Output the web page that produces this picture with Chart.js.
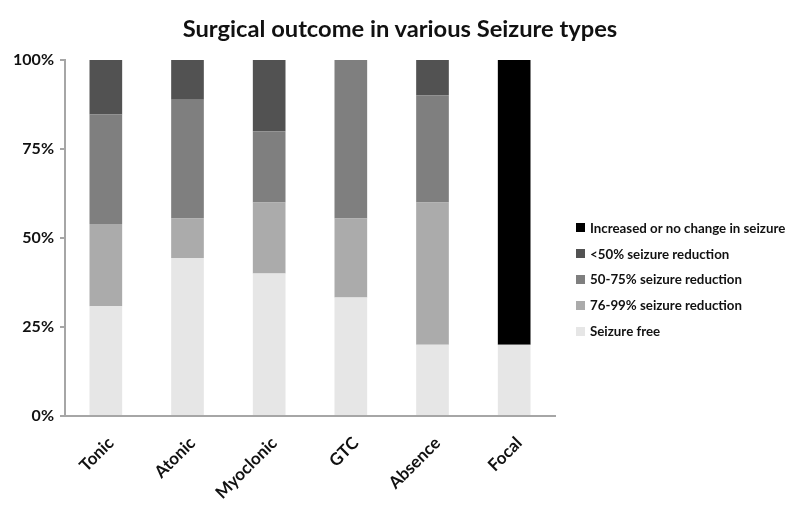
<!DOCTYPE html>
<html>
<head>
<meta charset="utf-8">
<script src="https://cdn.jsdelivr.net/npm/chart.js@4"></script>
<style>
    html, body { margin: 0; padding: 0; background: #fff; }
    #wrap { position: relative; width: 800px; height: 516px; }
    #title { position: absolute; left: 0; top: 15px; width: 800px; text-align: center; font: bold 23.7px/26px Lato, sans-serif; color: #111; }
    #legend { position: absolute; left: 576px; top: 215px; font: bold 13.3px Lato, sans-serif; color: #111; }
    #legend div { height: 25.8px; display: flex; align-items: center; }
    #legend span.box { display: inline-block; width: 9px; height: 9px; margin-right: 5px; }
</style>
</head>
<body>
<div id="wrap">
    <canvas id="chart" width="800" height="516"></canvas>
    <div id="title">Surgical outcome in various Seizure types</div>
    <div id="legend"></div>
</div>
<script>
    const categories = ['Tonic', 'Atonic', 'Myoclonic', 'GTC', 'Absence', 'Focal'];
    const seizureFree = [30.8, 44.4, 40, 33.3, 20, 20];
    const reduction76to99 = [23.1, 11.1, 20, 22.2, 40, 0];
    const reduction50to75 = [30.8, 33.3, 20, 44.5, 30, 0];
    const reductionUnder50 = [15.3, 11.2, 20, 0, 10, 0];
    const increasedOrNoChange = [0, 0, 0, 0, 0, 80];
    const yTicks = [0, 25, 50, 75, 100];

    const series = [
        { label: 'Seizure free', data: seizureFree, color: '#e6e6e6' },
        { label: '76-99% seizure reduction', data: reduction76to99, color: '#ababab' },
        { label: '50-75% seizure reduction', data: reduction50to75, color: '#7f7f7f' },
        { label: '<50% seizure reduction', data: reductionUnder50, color: '#525252' },
        { label: 'Increased or no change in seizure', data: increasedOrNoChange, color: '#000000' }
    ];

    const FONT = 'Lato, "Open Sans", sans-serif';

    new Chart(document.getElementById('chart'), {
        type: 'bar',
        data: {
            labels: categories,
            datasets: series.map(s => ({
                label: s.label,
                data: s.data,
                backgroundColor: s.color,
                borderWidth: 0,
                categoryPercentage: 1,
                barPercentage: 0.4
            }))
        },
        options: {
            responsive: false,
            animation: false,
            layout: { padding: { left: 0, right: 245, top: 60, bottom: 0 } },
            plugins: {
                legend: { display: false },
                tooltip: { enabled: false },
                title: { display: false }
            },
            scales: {
                x: {
                    stacked: true,
                    grid: { display: false },
                    border: { color: '#a6a6a6', width: 2 },
                    ticks: {
                        color: '#111',
                        font: { family: FONT, size: 17, weight: 'bold' },
                        maxRotation: 45,
                        minRotation: 45,
                        padding: 9,
                        labelOffset: 5
                    },
                    afterFit: function (scale) { scale.height = 100; }
                },
                y: {
                    stacked: true,
                    min: 0,
                    max: 100,
                    afterBuildTicks: function (scale) {
                        scale.ticks = yTicks.map(v => ({ value: v }));
                    },
                    grid: { drawOnChartArea: false, tickLength: 5, color: '#a6a6a6', lineWidth: 2 },
                    border: { color: '#a6a6a6', width: 2 },
                    ticks: {
                        color: '#111',
                        font: { family: FONT, size: 16, weight: 'bold' },
                        padding: 6,
                        callback: v => v + '%'
                    },
                    afterFit: function (scale) { scale.width = 65; }
                }
            }
        }
    });

    const legendEl = document.getElementById('legend');
    series.slice().reverse().forEach(function (s) {
        const row = document.createElement('div');
        const box = document.createElement('span');
        box.className = 'box';
        box.style.background = s.color;
        row.appendChild(box);
        row.appendChild(document.createTextNode(s.label));
        legendEl.appendChild(row);
    });
</script>
</body>
</html>
